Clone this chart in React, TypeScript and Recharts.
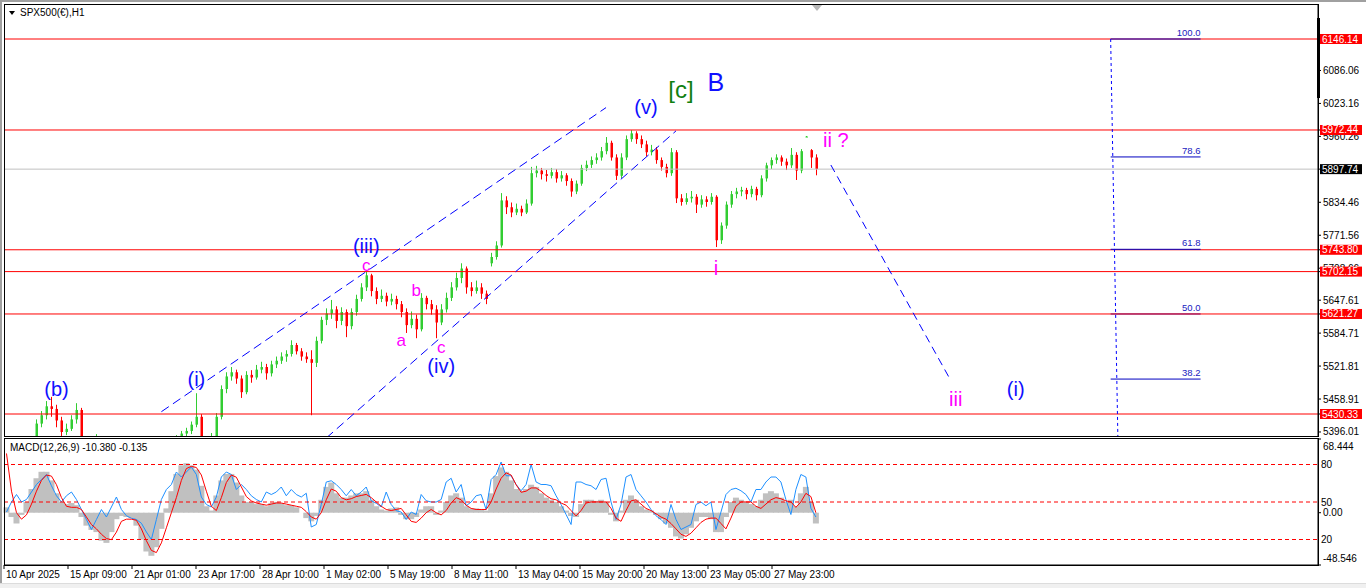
import React from "react";
import {
  ComposedChart,
  Bar,
  Line,
  XAxis,
  YAxis,
  ReferenceLine,
  ReferenceDot,
} from "recharts";

const FONT = "'Liberation Sans', Arial, sans-serif";

// H1 candles, one slot per ~2.5 bars
const opens = [
  5370, 5360, 5340, 5325, 5350, 5372, 5380, 5412, 5428, 5445,
  5440, 5418, 5396, 5402, 5420, 5438, 5384, 5372, 5360, 5376,
  5352, 5332, 5320, 5302, 5312, 5330, 5342, 5322, 5302, 5288,
  5296, 5318, 5345, 5358, 5370, 5382, 5393, 5398, 5410, 5425,
  5386, 5380, 5388, 5425, 5478, 5502, 5510, 5498, 5472, 5505,
  5500, 5515, 5520, 5508, 5525, 5532, 5540, 5545, 5562, 5550,
  5540, 5535, 5528, 5570, 5610, 5622, 5630, 5608, 5625, 5598,
  5625, 5650, 5672, 5695, 5665, 5650, 5656, 5645, 5650, 5640,
  5625, 5600, 5612, 5592, 5652, 5640, 5630, 5605, 5630, 5652,
  5672, 5690, 5708, 5672, 5665, 5672, 5660, 5718, 5730, 5752,
  5838, 5825, 5815, 5822, 5815, 5832, 5890, 5895, 5888, 5885,
  5892, 5880, 5886, 5875, 5855, 5870, 5900, 5906, 5915, 5920,
  5932, 5948, 5920, 5885, 5920, 5955, 5966, 5955, 5945, 5930,
  5935, 5915, 5902, 5890, 5930, 5842, 5835, 5842, 5845, 5830,
  5840, 5835, 5845, 5762, 5790, 5830, 5850, 5855, 5858, 5850,
  5860, 5848, 5880, 5905, 5915, 5920, 5912, 5905, 5925, 5895,
  5960, 5934, 5920,
];
const highs = [
  5378, 5365, 5346, 5358, 5378, 5386, 5420, 5436, 5455, 5463,
  5448, 5425, 5412, 5428, 5451, 5442, 5386, 5380, 5392, 5380,
  5358, 5340, 5326, 5318, 5336, 5350, 5346, 5328, 5308, 5302,
  5325, 5352, 5365, 5378, 5390, 5398, 5404, 5416, 5470, 5430,
  5387, 5394, 5432, 5485, 5510, 5520, 5515, 5504, 5512, 5514,
  5524, 5530, 5526, 5532, 5540, 5548, 5552, 5571, 5566, 5556,
  5548, 5552, 5578, 5616, 5632, 5648, 5636, 5634, 5630, 5632,
  5658, 5680, 5702, 5698, 5672, 5668, 5662, 5660, 5656, 5646,
  5632, 5626, 5620, 5661, 5656, 5648, 5638, 5640, 5662, 5682,
  5700, 5718, 5712, 5682, 5685, 5680, 5666, 5738, 5760, 5852,
  5846, 5834, 5832, 5828, 5840, 5902, 5904, 5900, 5896, 5900,
  5898, 5894, 5890, 5880, 5876, 5906, 5914, 5922, 5928, 5940,
  5959, 5952, 5926, 5928, 5962, 5972, 5970, 5962, 5952, 5944,
  5940, 5920, 5908, 5938, 5934, 5850, 5852, 5856, 5850, 5848,
  5846, 5852, 5848, 5796, 5836, 5856, 5862, 5864, 5862, 5866,
  5864, 5886, 5910, 5920, 5926, 5924, 5918, 5938, 5930, 5936,
  5961, 5936, 5926,
];
const lows = [
  5352, 5332, 5315, 5320, 5345, 5366, 5376, 5405, 5420, 5425,
  5405, 5388, 5390, 5398, 5412, 5378, 5365, 5350, 5355, 5345,
  5325, 5312, 5295, 5296, 5308, 5325, 5315, 5296, 5280, 5282,
  5290, 5312, 5340, 5352, 5365, 5376, 5385, 5392, 5405, 5384,
  5372, 5376, 5385, 5420, 5470, 5494, 5488, 5461, 5468, 5490,
  5496, 5508, 5496, 5502, 5518, 5526, 5530, 5540, 5544, 5532,
  5528, 5428, 5520, 5565, 5600, 5612, 5594, 5600, 5577, 5592,
  5618, 5645, 5665, 5655, 5640, 5644, 5636, 5638, 5630, 5615,
  5585, 5594, 5575, 5588, 5630, 5620, 5575, 5600, 5624, 5646,
  5666, 5680, 5660, 5655, 5660, 5650, 5640, 5712, 5725, 5748,
  5812, 5806, 5810, 5808, 5812, 5828, 5882, 5878, 5874, 5880,
  5872, 5874, 5866, 5845, 5850, 5866, 5894, 5900, 5908, 5914,
  5926, 5914, 5877, 5880, 5915, 5950, 5946, 5938, 5922, 5924,
  5908, 5895, 5882, 5885, 5833, 5828, 5830, 5834, 5814, 5824,
  5826, 5830, 5749, 5755, 5784, 5824, 5842, 5846, 5840, 5844,
  5838, 5844, 5874, 5898, 5908, 5904, 5896, 5900, 5877, 5890,
  5959, 5900, 5886,
];
const closes = [
  5360, 5340, 5325, 5350, 5372, 5380, 5412, 5428, 5445, 5440,
  5418, 5396, 5402, 5420, 5438, 5384, 5372, 5360, 5376, 5352,
  5332, 5320, 5302, 5312, 5330, 5342, 5322, 5302, 5288, 5296,
  5318, 5345, 5358, 5370, 5382, 5393, 5398, 5410, 5425, 5386,
  5380, 5388, 5425, 5478, 5502, 5510, 5498, 5472, 5505, 5500,
  5515, 5520, 5508, 5525, 5532, 5540, 5545, 5562, 5550, 5540,
  5535, 5528, 5570, 5610, 5622, 5630, 5608, 5625, 5598, 5625,
  5650, 5672, 5695, 5665, 5650, 5656, 5645, 5650, 5640, 5625,
  5600, 5612, 5592, 5652, 5640, 5630, 5605, 5630, 5652, 5672,
  5690, 5708, 5672, 5665, 5672, 5660, 5650, 5730, 5752, 5838,
  5825, 5815, 5822, 5815, 5832, 5890, 5895, 5888, 5885, 5892,
  5880, 5886, 5875, 5855, 5870, 5900, 5906, 5915, 5920, 5932,
  5948, 5920, 5885, 5920, 5955, 5966, 5955, 5945, 5930, 5935,
  5915, 5902, 5890, 5930, 5842, 5835, 5842, 5845, 5830, 5840,
  5835, 5845, 5762, 5790, 5830, 5850, 5855, 5858, 5850, 5860,
  5848, 5880, 5905, 5915, 5920, 5912, 5905, 5925, 5895, 5932,
  5960, 5920, 5898,
];

// MACD window
const macdMain = [
  5, -4, -10, -2, 10, 22, 32, 38, 38, 30,
  18, 10, 8, 9, 7, -4, -12, -16, -18, -26,
  -28, -18, -6, -3, -4, -5, -12, -25, -36, -40,
  -32, -15, 4, 20, 36, 44, 46, 44, 40, 25,
  6, 2, 16, 30, 36, 36, 28, 16, 10, 10,
  8, 8, 6, 9, 10, 9, 7, 7, 5, 0,
  -5, -8, -3, 12, 24, 28, 18, 14, 14, 16,
  18, 18, 20, 12, 6, 3, 2, 4, 5, -2,
  -6, -6, -4, 3, 6, 6, -2, 2, 10, 16,
  18, 14, 6, 4, 4, 3, 2, 18, 34, 42,
  38, 30, 22, 20, 22, 26, 24, 18, 14, 12,
  10, 6, 2, -3, -4, 8, 12, 12, 11, 12,
  10, -2, -8, 2, 12, 16, 12, 6, 3, 2,
  -2, -6, -10, -14, -22, -24, -20, -14, -8, -4,
  -4, -6, -18, -18, -4, 10, 14, 12, 10, 8,
  6, 12, 18, 20, 18, 14, 10, 12, 6, 18,
  24, 10, -10,
];
const macdSignal = [
  55, 20, 0, -6, -2, 8, 20, 30, 35, 34,
  26, 14, 6, 5, 5, 3, -4, -11, -15, -20,
  -24, -25, -18, -8, -6, -6, -7, -15, -26, -35,
  -37, -28, -14, 0, 14, 30, 41, 43, 42, 35,
  20, 6, 2, 14, 28, 35, 33, 24, 15, 11,
  9, 8, 7, 8, 9, 9, 8, 7, 6, 5,
  1, -4, -6, 0, 12, 22, 20, 14, 12, 13,
  15, 16, 17, 14, 10, 6, 3, 2, 3, 4,
  -2, -8, -9, -5, 0, 3, 0, -2, 2, 9,
  14, 12, 7, 4, 3, 3, 3, 10, 22, 32,
  37, 35, 26, 19, 20, 23, 23, 20, 16, 13,
  12, 9, 7, 2, -3, 2, 9, 10, 10, 10,
  10, 4, -5, -8, 2, 11, 12, 8, 4, 2,
  -1, -4, -6, -10, -15, -20, -22, -19, -14, -9,
  -6, -5, -5, -10, -15, -5, 6, 10, 10, 10,
  6, 4, 8, 12, 14, 13, 11, 10, 5, 10,
  18, 15, 0,
];
const blueLine = [
  42, 50, 56, 50, 52, 58, 64, 68, 72, 63,
  55, 50, 55, 58, 52, 44, 36, 28, 36, 44,
  38, 46, 54, 44, 39, 37, 36, 33, 26, 20,
  36, 52, 60, 64, 74, 70, 74, 78, 72, 54,
  48, 46, 54, 70, 74, 72, 60, 64, 60, 55,
  52, 50, 58, 56, 58, 62, 55, 60, 56, 54,
  57, 30, 32, 48, 66, 67, 64, 60, 55, 60,
  55, 58, 62, 51, 49, 46, 58, 48, 43, 42,
  36, 42, 40, 56, 51, 50, 50, 52, 66, 69,
  58, 64, 47, 50, 55, 56, 44, 68, 72, 82,
  71, 71, 64, 59, 64, 80, 66, 64, 64, 63,
  55, 48, 40, 32, 66, 66, 64, 63, 60, 68,
  69, 50, 36, 48, 70, 72, 60, 55, 50, 44,
  39, 36, 32, 48, 36, 28, 30, 32, 48, 50,
  47, 50, 28, 42, 56, 60, 61, 59, 56, 50,
  60, 60, 66, 70, 70, 66, 52, 40, 60, 72,
  70, 45, 38,
];

const slotCount = 263;
const barsOnScreen = 657;
const priceTicks = [6086.06, 6023.16, 5960.26, 5834.46, 5771.56, 5708.66, 5647.61, 5584.71, 5521.81, 5458.91, 5396.01];
const redLevels = [6146.14, 5972.44, 5743.8, 5702.15, 5621.27, 5430.33];
const lastPrice = 5897.74;
const fibNames = ["100.0", "78.6", "61.8", "50.0", "38.2"];
const fibPrices = [6146.14, 5921, 5744.7, 5621.27, 5497];
const stochLevels = [80, 50, 20];
const timeLabels = [
  "10 Apr 2025", "15 Apr 09:00", "21 Apr 01:00", "23 Apr 17:00", "28 Apr 10:00",
  "1 May 02:00", "5 May 19:00", "8 May 11:00", "13 May 04:00", "15 May 20:00",
  "20 May 13:00", "23 May 05:00", "27 May 23:00",
];
const timeTicks = [0, 32, 64, 96, 128, 160, 192, 224, 256, 288, 320, 352, 384];

const waveNotes = [
  { text: "(b)", slot: 10, price: 5478, kind: "blue" },
  { text: "(i)", slot: 38, price: 5497, kind: "blue" },
  { text: "(iii)", slot: 72, price: 5751, kind: "blue" },
  { text: "c", slot: 72, price: 5713, kind: "pink" },
  { text: "a", slot: 79, price: 5570, kind: "pink" },
  { text: "b", slot: 82, price: 5667, kind: "pink" },
  { text: "c", slot: 87, price: 5557, kind: "pink" },
  { text: "(iv)", slot: 87, price: 5522, kind: "blue" },
  { text: "(v)", slot: 128, price: 6016, kind: "blue" },
  { text: "[c]", slot: 135, price: 6049, kind: "green" },
  { text: "B", slot: 142, price: 6064, kind: "big" },
  { text: "i", slot: 142, price: 5709, kind: "pinkBig" },
  { text: "ii ?", slot: 166, price: 5953, kind: "pinkBig" },
  { text: "iii", slot: 190, price: 5459, kind: "pinkBig" },
  { text: "(i)", slot: 202, price: 5478, kind: "blue" },
];

// trend lines, [slot, price] pairs
const channelUpper = [[31, 5434.7], [120, 6015.2]];
const channelLower = [[64, 5384.5], [134, 5970.7]];
const projection = [[165, 5905.6], [189, 5494.3]];
const fibStem = [[221, 6146.14], [223, 5092.8]];
const fibFrom = 221;
const fibTo = 239;

const noteStyle: Record<string, { color: string; size: number }> = {
  blue: { color: "#1010ff", size: 20 },
  pink: { color: "#ff00ff", size: 17 },
  pinkBig: { color: "#ff00ff", size: 20 },
  green: { color: "#108010", size: 24 },
  big: { color: "#1010ff", size: 25 },
};

const rows = Array.from({ length: slotCount }, (_, i) => {
  // bar = position of the slot measured in H1 bars, for the time axis
  const bar = ((i + 0.5) * barsOnScreen) / slotCount;
  return i < closes.length
    ? { i, bar, o: opens[i], h: highs[i], l: lows[i], c: closes[i], hist: macdMain[i], sig: macdSignal[i], st: blueLine[i] }
    : { i, bar };
});

const Candle = (props: any) => {
  const { x, y, width, height, payload } = props;
  if (payload == null || payload.h == null) return null;
  const cx = Math.round(x + width / 2) + 0.5;
  const k = height / (payload.h - payload.l || 1);
  const yo = y + (payload.h - payload.o) * k;
  const yc = y + (payload.h - payload.c) * k;
  const col = payload.c >= payload.o ? "#32cd32" : "#ff0000";
  const top = Math.min(yo, yc);
  const bh = Math.max(1, Math.abs(yc - yo));
  return (
    <g>
      <line x1={cx} x2={cx} y1={y} y2={y + height} stroke={col} strokeWidth={1} />
      <rect x={cx - 1} y={top} width={2.5} height={bh} fill={col} />
    </g>
  );
};

// histogram column, widened a touch so neighbours merge into one area
const HistBar = (props: any) => {
  const { x, y, width, height } = props;
  if (height == null || width == null) return null;
  const top = height < 0 ? y + height : y;
  return <rect x={x - 0.5} y={top} width={width + 1} height={Math.abs(height)} fill="#c0c0c0" />;
};

// price axis: plain ticks first, coloured tags last so they sit on top
const PriceTick = (p: any) => {
  const v = p.payload.value;
  const isLast = v === lastPrice;
  const isRed = redLevels.includes(v);
  if (isLast || isRed) {
    return (
      <g>
        <rect x={p.x - 3} y={p.y - 5} width={42} height={10} fill={isLast ? "#000" : "#ff0000"} />
        <text x={p.x - 1} y={p.y} dy="0.35em" fill="#fff" fontSize={10} fontFamily={FONT}>
          {v.toFixed(2)}
        </text>
      </g>
    );
  }
  return (
    <text x={p.x} y={p.y} dy="0.35em" fill="#000" fontSize={10} fontFamily={FONT}>
      {v.toFixed(2)}
    </text>
  );
};

const fibTag = (text: string) => (p: any) => {
  const vb = p.viewBox;
  return (
    <text x={vb.x + vb.width} y={vb.y - 3} textAnchor="end" fill="#2020c0" fontSize={9.5} fontFamily={FONT}>
      {text}
    </text>
  );
};

const noteTag = (text: string, kind: string) => (p: any) => {
  const vb = p.viewBox;
  const s = noteStyle[kind];
  return (
    <text
      x={vb.x + vb.width / 2}
      y={vb.y + vb.height / 2}
      textAnchor="middle"
      dominantBaseline="central"
      fill={s.color}
      fontSize={s.size}
      fontFamily={FONT}
    >
      {text}
    </text>
  );
};

const levelTag = (text: string) => (p: any) => {
  const vb = p.viewBox;
  return (
    <text x={vb.x + vb.width + 3} y={vb.y} dy="0.35em" fill="#000" fontSize={10} fontFamily={FONT}>
      {text}
    </text>
  );
};

const MacdTick = (p: any) => {
  const v = p.payload.value;
  const shift = v > 1 ? 7 : v < -1 ? -7 : 0;
  const txt = v === 0 ? "0.00" : v.toFixed(3);
  return (
    <text x={p.x} y={p.y + shift} dy="0.35em" textAnchor="start" fill="#000" fontSize={10} fontFamily={FONT}>
      {txt}
    </text>
  );
};

const TimeTick = (p: any) => {
  const idx = timeTicks.indexOf(p.payload.value);
  return (
    <text x={p.x + 2} y={p.y} dy="0.71em" textAnchor="start" fill="#000" fontSize={10} fontFamily={FONT}>
      {timeLabels[idx]}
    </text>
  );
};

const seg = (pts: number[][]) => pts.map(([x, y]) => ({ x, y }));

function PriceChart() {
  return (
    <ComposedChart width={1366} height={437} data={rows} margin={{ top: 5, right: 0, bottom: 1, left: 4 }}>
      <XAxis dataKey="i" hide height={0} />
      <YAxis
        orientation="right"
        width={48}
        domain={[5388.34, 6211.04]}
        allowDataOverflow
        ticks={[...priceTicks, ...redLevels, lastPrice]}
        interval={0}
        tickSize={3}
        tickMargin={2}
        axisLine={{ stroke: "#000" }}
        tickLine={{ stroke: "#000" }}
        tick={<PriceTick />}
      />
      <ReferenceLine
        segment={[{ x: fibFrom, y: fibPrices[3] }, { x: fibTo, y: fibPrices[3] }]}
        stroke="#0000c0"
        label={fibTag(fibNames[3])}
      />
      {redLevels.map((v) => (
        <ReferenceLine key={v} y={v} stroke="#ff0000" strokeWidth={1} />
      ))}
      <ReferenceLine y={lastPrice} stroke="#c0c0c0" />
      {fibPrices.map((v, k) =>
        k === 3 ? null : (
          <ReferenceLine
            key={"f" + k}
            segment={[{ x: fibFrom, y: v }, { x: fibTo, y: v }]}
            stroke="#0000c0"
            label={fibTag(fibNames[k])}
          />
        )
      )}
      <ReferenceLine segment={seg(fibStem)} stroke="#0000ff" strokeDasharray="3 3" ifOverflow="hidden" />
      <ReferenceLine segment={seg(channelUpper)} stroke="#0000ff" strokeDasharray="9 5" ifOverflow="hidden" />
      <ReferenceLine segment={seg(channelLower)} stroke="#0000ff" strokeDasharray="9 5" ifOverflow="hidden" />
      <ReferenceLine segment={seg(projection)} stroke="#0000ff" strokeDasharray="8 5" ifOverflow="hidden" />
      <Bar
        dataKey={(r: any) => (r.h == null ? null : [r.l, r.h])}
        shape={<Candle />}
        isAnimationActive={false}
      />
      {waveNotes.map((n, k) => (
        <ReferenceDot key={"n" + k} x={n.slot} y={n.price} r={0} fill="none" stroke="none" label={noteTag(n.text, n.kind)} />
      ))}
    </ComposedChart>
  );
}

function MacdChart() {
  return (
    <ComposedChart
      width={1366}
      height={150}
      data={rows}
      margin={{ top: 1, right: 0, bottom: 3, left: 4 }}
      barCategoryGap={0}
      barGap={0}
    >
      <XAxis dataKey="i" hide height={0} />
      <XAxis
        xAxisId="t"
        dataKey="bar"
        type="number"
        domain={[0, barsOnScreen]}
        allowDataOverflow
        ticks={timeTicks}
        interval={0}
        height={20}
        tickSize={4}
        axisLine={{ stroke: "#000" }}
        tickLine={{ stroke: "#000" }}
        tick={<TimeTick />}
      />
      <YAxis
        yAxisId="m"
        orientation="right"
        width={48}
        domain={[-48.546, 68.444]}
        allowDataOverflow
        ticks={[68.444, 0, -48.546]}
        interval={0}
        tickSize={3}
        tickMargin={2}
        axisLine={{ stroke: "#000" }}
        tickLine={{ stroke: "#000" }}
        tick={<MacdTick />}
      />
      <YAxis yAxisId="s" hide domain={[-0.4, 100.4]} allowDataOverflow />
      <Bar yAxisId="m" dataKey="hist" fill="#c0c0c0" shape={<HistBar />} isAnimationActive={false} />
      <Line yAxisId="s" dataKey="st" stroke="#1e90ff" strokeWidth={1} dot={false} isAnimationActive={false} />
      <Line yAxisId="m" dataKey="sig" stroke="#ff0000" strokeWidth={1} dot={false} isAnimationActive={false} />
      {stochLevels.map((v) => (
        <ReferenceLine key={v} yAxisId="s" y={v} stroke="#ff0000" strokeDasharray="4 3" label={levelTag(String(v))} />
      ))}
    </ComposedChart>
  );
}

export default function App() {
  return (
    <div
      style={{
        position: "absolute",
        left: 0,
        top: 0,
        width: 1366,
        height: 588,
        background: "#fff",
        overflow: "hidden",
        fontFamily: FONT,
      }}
    >
      <div style={{ position: "absolute", left: 0, top: 0 }}>
        <PriceChart />
      </div>
      <div style={{ position: "absolute", left: 0, top: 438 }}>
        <MacdChart />
      </div>
      {/* window frame */}
      <div style={{ position: "absolute", left: 0, top: 0, width: 1366, height: 2, background: "#a0a0a0" }} />
      <div style={{ position: "absolute", left: 0, top: 0, width: 2, height: 588, background: "#a0a0a0" }} />
      <div
        style={{
          position: "absolute",
          left: 4,
          top: 4,
          width: 1315,
          height: 433,
          border: "1px solid #000",
          boxSizing: "border-box",
          pointerEvents: "none",
        }}
      />
      <div
        style={{
          position: "absolute",
          left: 4,
          top: 438,
          width: 1315,
          height: 128,
          border: "1px solid #000",
          boxSizing: "border-box",
          pointerEvents: "none",
        }}
      />
      <div style={{ position: "absolute", left: 1317, top: 18, width: 3, height: 80, background: "#000" }} />
      <div
        style={{
          position: "absolute",
          left: 812,
          top: 5,
          width: 0,
          height: 0,
          borderLeft: "5px solid transparent",
          borderRight: "5px solid transparent",
          borderTop: "6px solid #b8b8b8",
        }}
      />
      <div
        style={{ position: "absolute", left: 0, top: 583, width: 1366, height: 5, background: "#f0f0f0", borderTop: "1px solid #dcdcdc" }}
      />
      {/* titles */}
      <div
        style={{
          position: "absolute",
          left: 9,
          top: 11,
          width: 0,
          height: 0,
          borderLeft: "3.5px solid transparent",
          borderRight: "3.5px solid transparent",
          borderTop: "4px solid #000",
        }}
      />
      <div style={{ position: "absolute", left: 20, top: 7, fontSize: 10, lineHeight: "12px", color: "#000" }}>
        SPX500(€),H1
      </div>
      <div style={{ position: "absolute", left: 10, top: 442, fontSize: 10, lineHeight: "12px", color: "#000" }}>
        MACD(12,26,9) -10.380 -0.135
      </div>
    </div>
  );
}
